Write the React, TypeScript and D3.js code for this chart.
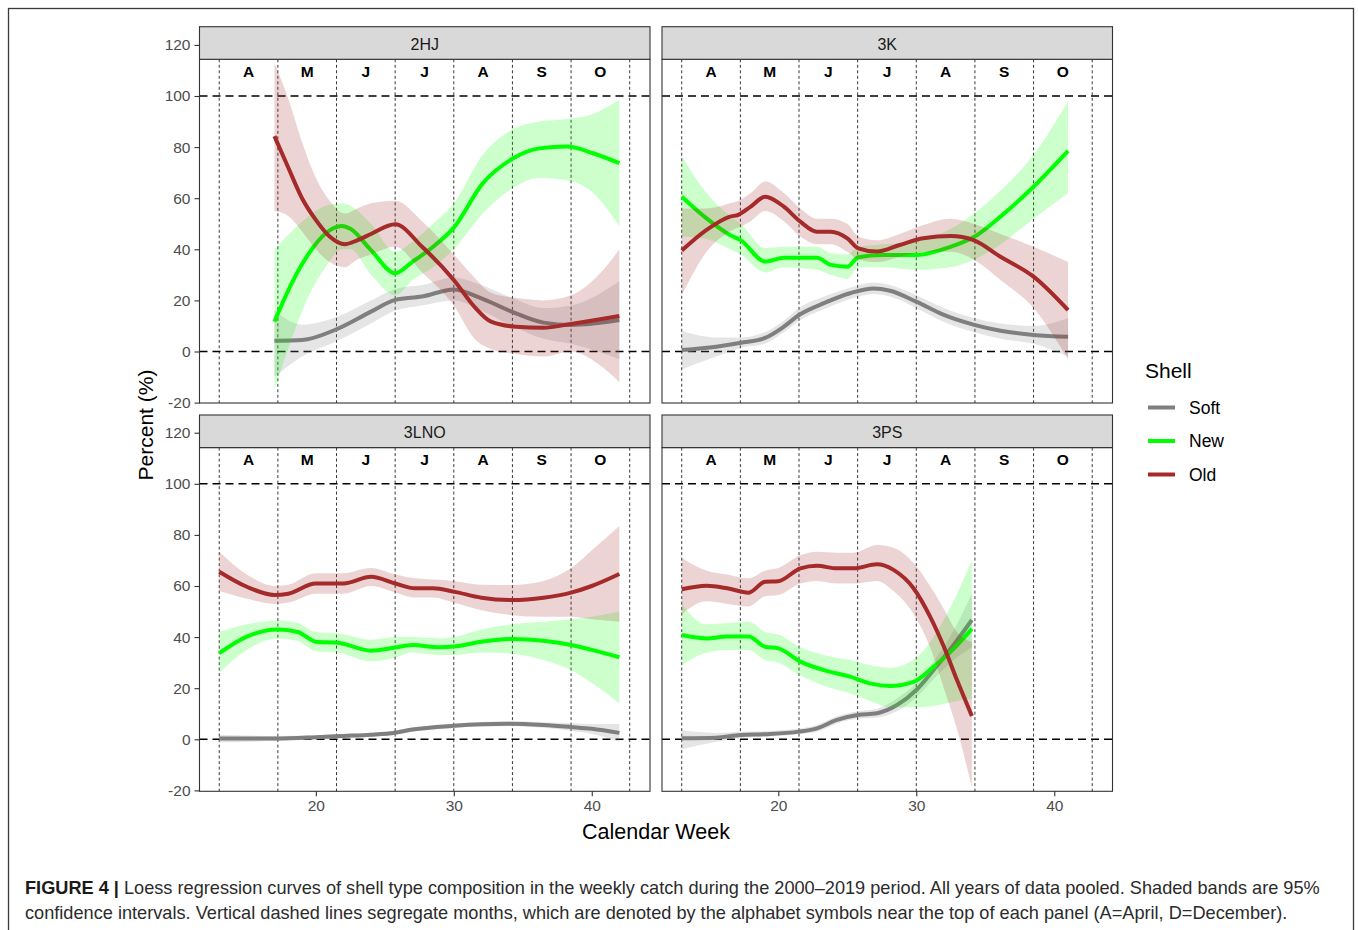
import React, { useEffect, useRef } from 'react';
import * as d3 from 'd3';

// [week, fit, lower 95%, upper 95%]
type Row = [number, number, number, number];

const panelNames = ['2HJ', '3K', '3LNO', '3PS'];
const shellNames = ['Soft', 'New', 'Old'];
const shellColors = ['#7f7f7f', '#00ff00', '#a52a2a'];
const monthBreaks = [13, 17.25, 21.5, 25.75, 30, 34.25, 38.5, 42.75];
const monthLetters = ['A', 'M', 'J', 'J', 'A', 'S', 'O'];
const yTicks = [-20, 0, 20, 40, 60, 80, 100, 120];
const xTicks = [20, 30, 40];
const refLines = [0, 100];

const hjSoft: Row[] = [
    [17, 4.2, -10, 16], [19, 4.5, -2, 10.5], [21.5, 8.7, 4, 13.5], [24, 15.6, 11, 20],
    [25.75, 20.2, 16, 24.5], [27.7, 21.5, 18, 26], [30, 24.3, 20, 29], [32, 20.8, 16, 26],
    [34.2, 15.6, 10, 21], [36.5, 11.3, 5, 17], [38.5, 10.4, 3, 18], [42, 12.3, -3, 27.5]
];
const hjNew: Row[] = [
    [17, 11.7, -15, 40], [18.25, 26.7, 5, 47], [19.5, 38.4, 22, 53], [20.7, 46.2, 33, 57],
    [21.9, 49.1, 40, 58], [22.5, 48, 40, 57], [24, 39.7, 30, 50], [25.75, 30.6, 22, 39],
    [27, 35.1, 28, 43], [28.5, 41, 33, 50], [30, 48.5, 40, 58], [32.1, 65.8, 54, 77],
    [34.3, 75.6, 64, 87], [36.2, 79.5, 68, 90], [38.2, 80.2, 67, 91], [40.1, 77.6, 62, 93],
    [42, 73.7, 49, 98.5]
];
const hjOld: Row[] = [
    [17, 84.3, 55, 113], [18, 72, 53, 99], [19, 60, 47, 82], [20, 51.5, 40, 68],
    [21, 45, 35, 59], [22.1, 42, 33, 54], [23, 43.5, 36, 56], [24, 46, 38, 58],
    [25.75, 49.8, 41, 59], [27.7, 41, 31, 51], [30, 28, 18, 38], [31.5, 17.5, 5, 29],
    [32.7, 11.7, 1, 23], [34.5, 9.7, -1, 21], [36.5, 9.3, -2, 20], [38.5, 10.8, 0, 22],
    [40.5, 12.5, -5, 30], [42, 13.9, -12, 40]
];

const kSoft: Row[] = [
    [13, 0.6, -7, 8], [15.5, 1.9, -2, 5.5], [17.3, 3.4, 1.5, 5.5], [19, 5.2, 3, 7.5],
    [20.4, 9.7, 7.5, 12], [21.5, 14.3, 12, 17], [23.3, 18.9, 16.5, 21.5], [25.2, 22.8, 20.5, 25],
    [26.9, 24.7, 22.5, 27], [28.1, 23.8, 21.5, 26], [30, 19.5, 17, 22], [32, 14.3, 11.5, 17],
    [34.2, 10.4, 7.5, 13], [36.1, 8.1, 5, 11], [38.5, 6.5, 3, 10], [41, 5.8, -2, 13]
];
const kNew: Row[] = [
    [13, 60.6, 45, 76.5], [14.8, 52.1, 44, 62], [16.5, 45.6, 40, 53], [17.27, 43.6, 38, 50],
    [19.05, 35.2, 31, 40.5], [20.4, 36.7, 33, 41], [22.8, 36.7, 32, 41], [23.8, 33.9, 30, 38.5],
    [25, 33.2, 28.5, 38], [25.8, 36.9, 33, 41], [27.6, 37.8, 33, 42], [30, 37.8, 32, 43],
    [32.5, 41, 33, 48], [34.2, 44.9, 36, 54], [36.1, 52.8, 42, 63], [38.5, 64.5, 52, 77],
    [41, 78.5, 62, 98]
];
const kOld: Row[] = [
    [13, 39.5, 22, 56], [14.8, 47.6, 39, 56], [16.5, 52.8, 47, 58], [17.1, 53.5, 48.5, 59],
    [18, 56.7, 51, 62], [19.05, 60.6, 55, 66.5], [20.4, 56.7, 51, 62], [21.6, 50.8, 45, 56],
    [22.8, 46.9, 42, 52], [23.8, 46.9, 42, 52], [25, 44.3, 39, 50], [25.8, 40.4, 36, 45],
    [27.15, 39.1, 35, 43.5], [28.8, 41.7, 37, 46], [30.5, 44.3, 39, 49.5], [32.5, 45.2, 39, 52],
    [34.15, 43.6, 36, 50], [36.1, 37.1, 28, 46], [38.5, 29.3, 17, 41], [41, 16.2, -3, 35]
];

const lnoSoft: Row[] = [
    [13, 0.3, -1.2, 1.8], [17, 0.3, -0.7, 1.3], [20, 0.8, 0, 1.6], [22, 1.3, 0.5, 2.1],
    [24, 1.8, 1, 2.6], [25.75, 2.6, 1.8, 3.4], [27, 3.8, 3, 4.6], [30, 5.3, 4.4, 6.2],
    [32, 5.9, 5, 6.8], [34, 6.1, 5.1, 7.1], [36.5, 5.6, 4.5, 6.7], [38.5, 4.8, 3.3, 6.3],
    [40, 4.1, 2.1, 6], [42, 2.5, -1, 6]
];
const lnoNew: Row[] = [
    [13, 33.7, 26, 42], [15, 40.2, 35, 45], [17.25, 43, 39.5, 46.5], [18.7, 42, 38.5, 45.5],
    [20, 38.2, 34.5, 42], [21.6, 37.8, 34, 41.5], [24, 34.7, 30.5, 39], [25.75, 35.9, 32, 40],
    [27, 36.9, 34, 40], [29, 36, 33, 39.5], [30, 36.3, 33, 40], [32, 38.2, 34, 43],
    [34.2, 39.3, 33.5, 45], [36.5, 38.6, 31, 46], [38.5, 36.9, 27, 47], [40, 35, 22, 48],
    [42, 32.1, 14, 50]
];
const lnoOld: Row[] = [
    [13, 65.6, 58, 73.4], [15, 59.7, 55, 64.5], [17, 56.5, 53, 60], [18, 57, 53.5, 60.5],
    [20, 61, 57, 65], [22, 61, 57, 65], [24, 63.6, 60, 67], [25.75, 61, 57.5, 64.5],
    [27.2, 59.1, 55.5, 63], [28.5, 59.1, 55.5, 62.5], [30, 57.8, 53.5, 62], [32, 55.4, 50.5, 60.5],
    [34.2, 54.5, 48.6, 60.4], [36.5, 55.4, 48, 62], [38.5, 57.4, 48, 67], [40, 60, 47, 74],
    [42, 64.7, 46, 83.5]
];

const psSoft: Row[] = [
    [13, 0.4, -4, 3.5], [15.5, 0.6, -1, 2.5], [17.27, 1.7, 0.5, 3], [19.05, 2, 1, 3.2],
    [21.5, 3, 2, 4.2], [22.8, 4.3, 3, 5.6], [24.25, 7.6, 6.2, 9], [25.75, 9.5, 8, 11],
    [27.15, 10.2, 8.5, 12], [28.6, 13.4, 11, 16], [30, 19.3, 16.5, 22], [31.25, 27.1, 23.5, 30.5],
    [32.7, 36.9, 31, 42.5], [34.03, 46.7, 36, 57]
];
const psNew: Row[] = [
    [13, 40.8, 29, 53], [14.8, 39.5, 34, 45], [16.3, 40.2, 35, 45.5], [17.85, 40.2, 35, 46],
    [19.05, 36.2, 31, 42], [20, 35.6, 30, 41], [21.6, 30.4, 25, 36], [23.3, 27.1, 21, 33],
    [25.2, 24.5, 18, 31], [26.65, 21.9, 15, 29], [28.1, 20.9, 12.5, 28], [29.8, 22.5, 12.5, 31],
    [31.25, 28.4, 13, 40], [32.5, 34.3, 14.5, 52], [34.03, 43.2, 16, 70]
];
const psOld: Row[] = [
    [13, 58.7, 49, 71], [14.8, 60.1, 54, 66], [16.3, 59.1, 53, 64.5], [17.85, 57.4, 52, 63],
    [19.05, 61.7, 56, 66], [20, 61.9, 56.5, 67], [21.6, 66.9, 61, 72], [22.8, 67.9, 62, 73.4],
    [24.25, 66.9, 61, 73], [25.45, 66.9, 61, 73], [27.15, 68.5, 62, 76], [28.35, 66.3, 58, 75],
    [29.8, 59.1, 49, 69], [31, 48, 36, 60], [32, 36.2, 20, 51], [32.95, 23.2, 4, 42],
    [34.03, 9.1, -19, 38]
];

const panelSeries: Row[][][] = [
    [hjSoft, hjNew, hjOld],
    [kSoft, kNew, kOld],
    [lnoSoft, lnoNew, lnoOld],
    [psSoft, psNew, psOld]
];

const captionBold = 'FIGURE 4 | ';
const captionLine1 = 'Loess regression curves of shell type composition in the weekly catch during the 2000\u20132019 period. All years of data pooled. Shaded bands are 95%';
const captionLine2 = 'confidence intervals. Vertical dashed lines segregate months, which are denoted by the alphabet symbols near the top of each panel (A=April, D=December).';

const FONT = '"Liberation Sans", Arial, Helvetica, sans-serif';

const App: React.FC = () => {
    const svgRef = useRef<SVGSVGElement>(null);
    const width = 1358;
    const height = 930;

    useEffect(() => {
        const svg = d3.select(svgRef.current);
        svg.selectAll('*').remove();

        svg.append('rect').attr('width', width).attr('height', height).attr('fill', '#fff');

        // outer frame
        svg.append('rect')
            .attr('x', 8.5).attr('y', 8.5)
            .attr('width', 1345).attr('height', 940)
            .attr('fill', 'none').attr('stroke', '#3a3a3a').attr('stroke-width', 1.3);

        const colLeft = [199.5, 662];
        const panelW = 450.5;
        const rowTop = [26.7, 415];
        const stripH = 32.6;
        const panelH = 376.3;
        const rowZero = [351.5, 739.3];
        const unit = 2.555;

        const xDomain: [number, number] = [11.57, 44.22];

        panelNames.forEach((name, i) => {
            const col = i % 2;
            const row = Math.floor(i / 2);
            const left = colLeft[col];
            const right = left + panelW;
            const top = rowTop[row];
            const plotTop = top + stripH;
            const bottom = top + panelH;

            const x = d3.scaleLinear().domain(xDomain).range([left, right]);
            const y = d3.scaleLinear()
                .domain([-20, 120])
                .range([rowZero[row] + 20 * unit, rowZero[row] - 120 * unit]);

            const clipId = `clip-${i}`;
            svg.append('clipPath').attr('id', clipId)
                .append('rect')
                .attr('x', left).attr('y', plotTop)
                .attr('width', panelW).attr('height', bottom - plotTop);

            const g = svg.append('g');

            // month separators
            g.selectAll('.month-line')
                .data(monthBreaks)
                .enter()
                .append('line')
                .attr('x1', d => x(d)).attr('x2', d => x(d))
                .attr('y1', plotTop).attr('y2', bottom)
                .attr('stroke', '#222')
                .attr('stroke-width', 0.9)
                .attr('stroke-dasharray', '3,2.5');

            // 0 and 100 reference lines
            g.selectAll('.ref-line')
                .data(refLines)
                .enter()
                .append('line')
                .attr('x1', left).attr('x2', right)
                .attr('y1', d => y(d)).attr('y2', d => y(d))
                .attr('stroke', '#000')
                .attr('stroke-width', 1.6)
                .attr('stroke-dasharray', '8,5');

            // month letters
            g.selectAll('.month-letter')
                .data(monthLetters)
                .enter()
                .append('text')
                .attr('x', (_, k) => x((monthBreaks[k] + monthBreaks[k + 1]) / 2))
                .attr('y', y(110) + 1.5)
                .attr('text-anchor', 'middle')
                .attr('dominant-baseline', 'central')
                .style('font-family', FONT)
                .style('font-size', '15.5px')
                .style('font-weight', 'bold')
                .style('fill', '#000')
                .text(d => d);

            // smooth fits
            const curves = g.append('g').attr('clip-path', `url(#${clipId})`);
            const area = d3.area<Row>()
                .x(d => x(d[0]))
                .y0(d => y(d[2]))
                .y1(d => y(d[3]))
                .curve(d3.curveMonotoneX);
            const line = d3.line<Row>()
                .x(d => x(d[0]))
                .y(d => y(d[1]))
                .curve(d3.curveMonotoneX);

            panelSeries[i].forEach((rows, s) => {
                curves.append('path')
                    .datum(rows)
                    .attr('d', area)
                    .attr('fill', shellColors[s])
                    .attr('fill-opacity', 0.2);
                curves.append('path')
                    .datum(rows)
                    .attr('d', line)
                    .attr('fill', 'none')
                    .attr('stroke', shellColors[s])
                    .attr('stroke-width', 4);
            });

            // panel border
            g.append('rect')
                .attr('x', left).attr('y', plotTop)
                .attr('width', panelW).attr('height', bottom - plotTop)
                .attr('fill', 'none').attr('stroke', '#333').attr('stroke-width', 1.1);

            // strip
            g.append('rect')
                .attr('x', left).attr('y', top)
                .attr('width', panelW).attr('height', stripH)
                .attr('fill', '#d9d9d9').attr('stroke', '#333').attr('stroke-width', 1.1);
            g.append('text')
                .attr('x', (left + right) / 2)
                .attr('y', top + stripH / 2 + 1)
                .attr('text-anchor', 'middle')
                .attr('dominant-baseline', 'central')
                .style('font-family', FONT)
                .style('font-size', '16px')
                .style('fill', '#1a1a1a')
                .text(name);

            // y axis on left column
            if (col === 0) {
                const ya = svg.append('g')
                    .attr('transform', `translate(${left},0)`)
                    .call(d3.axisLeft(y).tickValues(yTicks).tickFormat(d => String(d)).tickSize(5).tickPadding(4));
                ya.select('.domain').remove();
                ya.selectAll('line').attr('stroke', '#333').attr('stroke-width', 1.1);
                ya.selectAll('text')
                    .style('font-family', FONT)
                    .style('font-size', '15.5px')
                    .style('fill', '#4d4d4d');
            }

            // x axis on bottom row
            if (row === 1) {
                const xa = svg.append('g')
                    .attr('transform', `translate(0,${bottom})`)
                    .call(d3.axisBottom(x).tickValues(xTicks).tickFormat(d => String(d)).tickSize(5).tickPadding(4));
                xa.select('.domain').remove();
                xa.selectAll('line').attr('stroke', '#333').attr('stroke-width', 1.1);
                xa.selectAll('text')
                    .style('font-family', FONT)
                    .style('font-size', '15.5px')
                    .style('fill', '#4d4d4d');
            }
        });

        // axis titles
        svg.append('text')
            .attr('transform', 'translate(153,425) rotate(-90)')
            .attr('text-anchor', 'middle')
            .style('font-family', FONT)
            .style('font-size', '21px')
            .style('fill', '#000')
            .text('Percent (%)');

        svg.append('text')
            .attr('x', 656)
            .attr('y', 839)
            .attr('text-anchor', 'middle')
            .style('font-family', FONT)
            .style('font-size', '21.5px')
            .style('fill', '#000')
            .text('Calendar Week');

        // legend
        const legend = svg.append('g');
        legend.append('text')
            .attr('x', 1145).attr('y', 378)
            .style('font-family', FONT)
            .style('font-size', '21px')
            .style('fill', '#000')
            .text('Shell');
        const legendY = [407.5, 441, 474.5];
        shellNames.forEach((s, k) => {
            legend.append('line')
                .attr('x1', 1148).attr('x2', 1175)
                .attr('y1', legendY[k]).attr('y2', legendY[k])
                .attr('stroke', shellColors[k])
                .attr('stroke-width', 4);
            legend.append('text')
                .attr('x', 1189).attr('y', legendY[k] + 6)
                .style('font-family', FONT)
                .style('font-size', '17.5px')
                .style('fill', '#000')
                .text(s);
        });

        // caption
        const capFont = '"Liberation Sans Narrow", "Liberation Sans", Arial, sans-serif';
        const cap1 = svg.append('text')
            .attr('x', 0).attr('y', 0)
            .style('font-family', capFont)
            .style('font-size', '17.5px')
            .style('fill', '#2b2b2b');
        cap1.append('tspan').style('font-weight', 'bold').style('fill', '#1a1a1a').text(captionBold);
        cap1.append('tspan').text(captionLine1);
        const cap2 = svg.append('text')
            .attr('x', 0).attr('y', 0)
            .style('font-family', capFont)
            .style('font-size', '17.5px')
            .style('fill', '#2b2b2b')
            .text(captionLine2);

        const w1 = (cap1.node() as SVGTextElement).getComputedTextLength();
        const k = w1 > 0 ? 1296 / w1 : 1;
        cap1.attr('transform', `translate(25,894) scale(${k},1)`);
        cap2.attr('transform', `translate(25,919) scale(${k},1)`);
    }, []);

    return (
        <svg
            ref={svgRef}
            width={width}
            height={height}
            style={{ position: 'absolute', left: 0, top: 0, display: 'block' }}
        />
    );
};

export default App;
